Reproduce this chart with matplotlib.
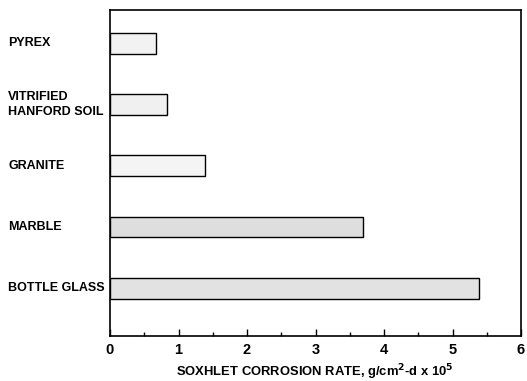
import matplotlib
matplotlib.use("Agg")
import matplotlib.pyplot as plt
from matplotlib.ticker import MultipleLocator

categories = ["PYREX", "VITRIFIED\nHANFORD SOIL", "GRANITE", "MARBLE", "BOTTLE GLASS"]
rates = [0.67, 0.83, 1.39, 3.70, 5.39]
xticks = [0, 1, 2, 3, 4, 5, 6]

plt.rcParams['font.family'] = ['Liberation Sans', 'DejaVu Sans']

fig = plt.figure(figsize=(5.27, 3.81), dpi=100)
ax = fig.add_axes([110/527, 45/381, 411/527, 326/381])

ypos = list(range(len(categories)))
faces = ['#f2f2f2', '#f0f0f0', '#f4f4f4', '#dedede', '#e2e2e2']
ax.barh(ypos, rates, height=0.34, color=faces, edgecolor='black', linewidth=1.0, zorder=2)

ax.set_xlim(0, 6)
ax.set_ylim(4.78, -0.54)
ax.set_xticks(xticks)
ax.set_xticklabels([str(t) for t in xticks], fontsize=10.5, fontweight='bold')
ax.xaxis.set_minor_locator(MultipleLocator(0.5))
ax.tick_params(axis='x', which='major', direction='in', length=5, width=1.0, pad=5)
ax.tick_params(axis='x', which='minor', direction='in', length=3, width=1.0)
ax.set_yticks([])
for sp in ax.spines.values():
    sp.set_linewidth(1.2)

for y, lab in zip(ypos, categories):
    ax.text(-0.248, y, lab, transform=ax.get_yaxis_transform(), ha='left', va='center',
            fontsize=9, fontweight='bold', linespacing=1.35)

fig.text(315/527, 9/381, "SOXHLET CORROSION RATE, g/cm$^{\\mathbf{2}}$-d x 10$^{\\mathbf{5}}$",
         ha='center', va='center', fontsize=9.4, fontweight='bold')

fig.savefig("out.png", dpi=100)
